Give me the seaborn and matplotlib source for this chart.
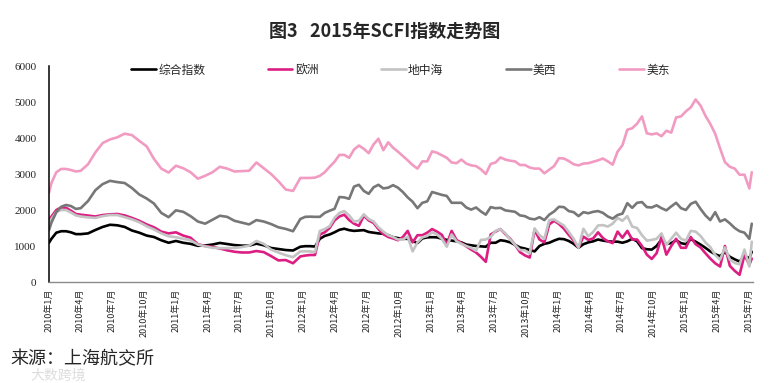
import pandas as pd
import seaborn as sns
import matplotlib
matplotlib.use('Agg')
import matplotlib.pyplot as plt

# week number counted from 2010-01-01 (weekly SCFI)
week_no = [0, 1, 3, 5, 7, 9, 11, 13,
           16, 19, 22, 25, 28, 31, 34, 37, 40, 43, 46, 49, 52, 55, 58, 61, 64, 67, 70, 73, 76,
           79, 82, 85, 88, 91, 94, 97, 100, 103,
           105, 107, 109, 111, 113, 115, 117, 119, 121, 123, 125, 127, 129, 131, 133, 135, 137,
           139, 141, 143, 145,
           147, 149, 151, 153, 155, 157, 159, 161, 163, 165, 167, 169, 171, 173, 175, 177, 179,
           181, 183, 185, 187, 189, 191, 193,
           195, 197, 199, 201, 203, 205, 207, 209, 211, 213, 215, 217, 219, 221, 223, 225, 227,
           229, 231, 233, 235, 237, 239, 241,
           243, 245, 247, 249, 251, 253, 255, 257, 259, 261, 263, 265, 267, 269, 271, 273, 275,
           277, 279, 281, 283, 285, 287, 288]

composite = [1090, 1200, 1370, 1410, 1410, 1380, 1330, 1330,
             1350, 1445, 1530, 1590, 1575, 1530, 1430, 1370, 1290, 1250, 1160, 1090, 1140, 1090,
             1060, 1005, 1015, 1040, 1085, 1055, 1025, 1010, 1010, 1065, 1020, 945, 915, 888, 875, 980,
             995, 995, 985, 1200, 1280, 1320, 1380, 1450, 1480, 1440, 1420, 1430, 1440, 1390, 1370,
             1350, 1340, 1300, 1245, 1220, 1200,
             1200, 1140, 1080, 1210, 1240, 1245, 1240, 1200, 1170, 1150, 1130, 1100, 1040, 1020,
             1000, 990, 980, 1090, 1090, 1160, 1140, 1100, 1030, 960,
             930, 890, 850, 1000, 1060, 1090, 1150, 1200, 1190, 1140, 1060, 950, 1050, 1100, 1130,
             1180, 1150, 1130, 1120, 1120, 1090, 1130, 1200, 1130,
             940, 910, 900, 1000, 1180, 1060, 1080, 1160, 1080, 1050, 1190, 1120, 1040, 950, 850,
             770, 720, 830, 700, 630, 570, 720, 660, 840]

europe = [1710, 1820, 2000, 2070, 2060, 1980, 1890, 1870,
          1845, 1820, 1860, 1880, 1890, 1850, 1780, 1700, 1600, 1520, 1400, 1350, 1380, 1290,
          1230, 1050, 1000, 975, 930, 880, 840, 820, 820, 860, 830, 720, 600, 610, 520, 710,
          735, 750, 750, 1320, 1380, 1500, 1710, 1820, 1870, 1720, 1620, 1560, 1840, 1710, 1640,
          1470, 1330, 1250, 1210, 1160, 1250,
          1420, 1100, 1300, 1300, 1370, 1470, 1400, 1310, 1050, 1420, 1170, 1080, 990, 900,
          820, 700, 560, 1320, 1400, 1470, 1330, 1200, 1030, 830,
          740, 680, 1450, 1180, 1100, 1600, 1700, 1610, 1480, 1310, 1150, 950, 1260, 1170, 1210,
          1380, 1220, 1130, 1080, 1400, 1230, 1420, 1180, 1180,
          1000, 760, 640, 800, 1250, 760, 1000, 1200, 950, 950, 1250, 1050, 960, 800, 650,
          520, 430, 1000, 450, 310, 200, 750, 480, 650]

mediterranean = [1620, 1750, 1950, 2000, 2000, 1930, 1850, 1820,
                 1795, 1780, 1830, 1860, 1860, 1800, 1740, 1660, 1550, 1460, 1350, 1270, 1245,
                 1200, 1160, 1040, 990, 950, 940, 940, 945, 970, 1010, 1140, 1060, 900, 820, 745,
                 690, 850,
                 850, 850, 830, 1420, 1470, 1550, 1780, 1920, 1970, 1850, 1680, 1700, 1880, 1750,
                 1680, 1520, 1400, 1300, 1250, 1180, 1180,
                 1260, 850, 1100, 1240, 1280, 1380, 1320, 1200, 980, 1320, 1130, 1060, 1000, 950,
                 870, 1170, 1180, 1250, 1420, 1470, 1350, 1180, 1030, 890,
                 880, 790, 1490, 1300, 1200, 1720, 1740, 1650, 1570, 1390, 1200, 950, 1480, 1270,
                 1390, 1570, 1580, 1540, 1620, 1780, 1700, 1830, 1540, 1500,
                 1300, 1150, 1170, 1200, 1350, 1030, 1200, 1370, 1200, 1150, 1420, 1400, 1280,
                 1100, 970, 750, 620, 960, 620, 530, 490, 900, 430, 1120]

us_west = [1440, 1650, 1940, 2090, 2140, 2110, 2030, 2050,
           2250, 2550, 2720, 2810, 2775, 2750, 2610, 2430, 2320, 2180, 1920, 1800, 1990, 1950,
           1830, 1680, 1620, 1730, 1840, 1810, 1700, 1650, 1600, 1720, 1680, 1610, 1520, 1475,
           1410, 1750,
           1810, 1815, 1810, 1810, 1920, 1980, 2030, 2360, 2350, 2310, 2650, 2700, 2530, 2450,
           2630, 2700, 2600, 2620, 2690, 2620, 2500,
           2350, 2230, 2050, 2200, 2240, 2500, 2460, 2420, 2390, 2200, 2200, 2200, 2070, 2010,
           2070, 1960, 1870, 2080, 2050, 2060, 1990, 1970, 1950, 1850,
           1830, 1760, 1740, 1800, 1720, 1870, 1960, 2090, 2080, 1970, 1940, 1830, 1940, 1910,
           1950, 1970, 1920, 1820, 1760, 1860, 1900, 2190, 2060, 2200,
           2220, 2080, 2070, 2130, 2050, 1990, 2100, 2200, 2050, 2000, 2170, 2230, 2030, 1850,
           1720, 1940, 1680, 1740, 1630, 1500, 1410, 1370, 1200, 1620]

us_east = [2480, 2750, 3050, 3140, 3140, 3110, 3070, 3090,
           3270, 3600, 3860, 3960, 4020, 4120, 4080, 3920, 3770, 3420, 3150, 3040, 3230, 3160,
           3050, 2870, 2950, 3050, 3200, 3150, 3070, 3080, 3090, 3320, 3160, 3000, 2800, 2570,
           2530, 2890,
           2890, 2890, 2900, 2950, 3050, 3200, 3340, 3530, 3530, 3450, 3680, 3790, 3700, 3580,
           3820, 3980, 3660, 3880, 3730, 3620, 3500,
           3380, 3250, 3150, 3350, 3350, 3630, 3590, 3520, 3450, 3320, 3300, 3400, 3290, 3240,
           3220, 3130, 3000, 3280, 3320, 3460, 3400, 3370, 3350, 3250,
           3250, 3180, 3150, 3150, 3020, 3120, 3220, 3440, 3430, 3360, 3270, 3240, 3290, 3300,
           3340, 3380, 3430, 3350, 3260, 3620, 3800, 4230, 4270, 4400,
           4600, 4130, 4100, 4130, 4050, 4200, 4150, 4570, 4600, 4740, 4850, 5070, 4900, 4620,
           4390, 4120, 3710, 3330, 3200, 3150, 2980, 2980, 2600, 3050]

series_names = ['综合指数', '欧洲', '地中海', '美西', '美东']
line_colors = ['#000000', '#DC1E82', '#C3C3C3', '#777777', '#F29BC2']
y_ticks = [0, 1000, 2000, 3000, 4000, 5000, 6000]

start = pd.Timestamp('2010-01-01')
df = pd.DataFrame({'date': [start + pd.Timedelta(weeks=w) for w in week_no],
                   '综合指数': composite, '欧洲': europe, '地中海': mediterranean,
                   '美西': us_west, '美东': us_east})
long_df = df.melt(id_vars='date', var_name='route', value_name='value')

sns.set_style('white')
plt.rcParams['font.family'] = ['Noto Sans CJK SC', 'DejaVu Sans']

fig = plt.figure(figsize=(7.7, 3.83), dpi=100)
ax = fig.add_axes([49 / 770, 1 - 282 / 383, 704 / 770, 216 / 383])
sns.lineplot(data=long_df, x='date', y='value', hue='route', hue_order=series_names,
             palette=dict(zip(series_names, line_colors)), linewidth=1.9, ax=ax)

quarters = pd.date_range('2010-01-01', '2015-07-01', freq='QS')
ax.set_xticks(quarters)
ax.set_xticklabels([f'{d.year}年{d.month}月' for d in quarters], rotation=90, fontsize=6.5)
ax.set_xlim(start, start + pd.Timedelta(weeks=288.5))
ax.set_ylim(0, 6000)
ax.set_yticks(y_ticks)
ax.set_yticklabels([str(v) for v in y_ticks], fontsize=8, family='Liberation Serif')
ax.set_xlabel('')
ax.set_ylabel('')

for s in ['top', 'right']:
    ax.spines[s].set_visible(False)
ax.spines['left'].set_color('black')
ax.spines['left'].set_linewidth(1.1)
ax.spines['bottom'].set_color('#8a8a8a')
ax.spines['bottom'].set_linewidth(1)
ax.tick_params(axis='x', direction='inout', length=5, color='#555555', pad=2)
ax.tick_params(axis='y', direction='out', length=3, color='black', pad=6)

handles, labels = ax.get_legend_handles_labels()
ax.legend(handles, labels, loc='center', bbox_to_anchor=(0.499, 0.981), ncol=5,
          frameon=False, fontsize=8.5, handlelength=2.1, handletextpad=0.2,
          columnspacing=5.3)

fig.text(0.5, 1 - 31 / 383, '图3   2015年SCFI指数走势图', ha='center', va='center',
         fontsize=13, fontweight='bold')
fig.text(10 / 770, 1 - 359 / 383, '来源：上海航交所', ha='left', va='center', fontsize=13)
fig.text(30 / 770, 1 - 376 / 383, '大数跨境', ha='left', va='center', fontsize=10,
         color='#dddddd')

fig.savefig('out.png', dpi=100)
